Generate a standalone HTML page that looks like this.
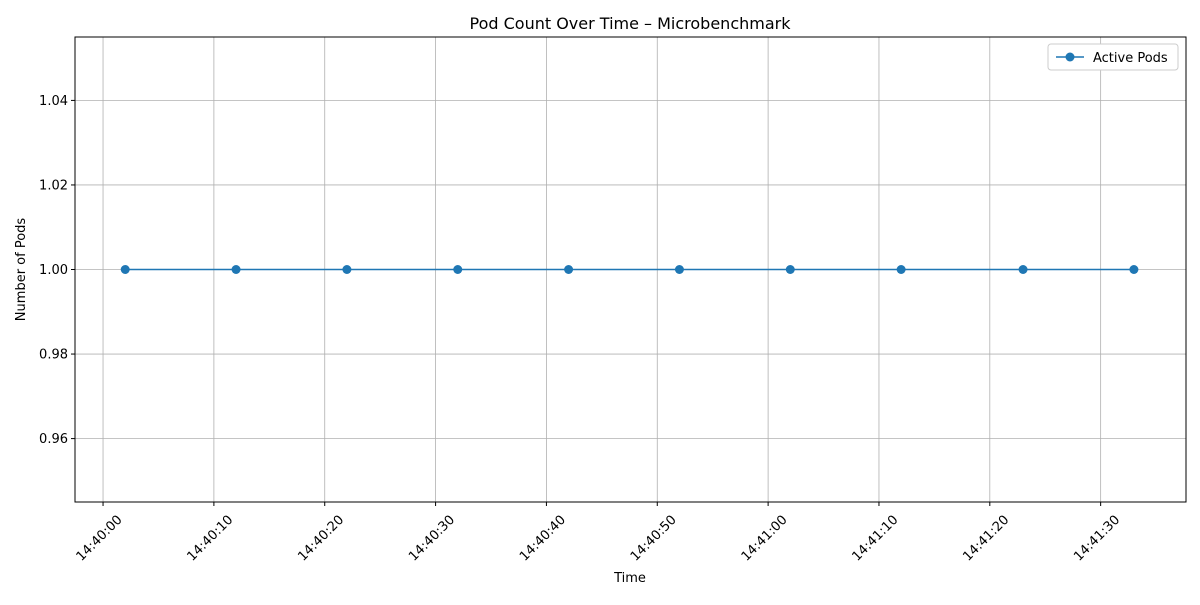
<!DOCTYPE html>
<html><head><meta charset="utf-8"><style>
body{margin:0;background:#fff;}
svg{font-family:"DejaVu Sans","Liberation Sans",sans-serif;}
</style></head><body>
<svg id="chart" width="1200" height="600">
<rect width="1200" height="600" fill="#fff"/>
<text x="630" y="29" font-size="16" text-anchor="middle">Pod Count Over Time – Microbenchmark</text>
<g id="grid"></g>
<g id="xaxis"></g>
<g id="yaxis"></g>
<g id="series"></g>
<rect x="75" y="37" width="1111" height="465" fill="none" stroke="#000" stroke-width="1"/>
<text x="630" y="582" font-size="13" text-anchor="middle">Time</text>
<text transform="translate(25,269.5) rotate(-90)" font-size="13" text-anchor="middle">Number of Pods</text>
<g>
<rect x="1048" y="44" width="130" height="26" fill="#fff" stroke="#ccc" rx="3"/>
<line x1="1056" y1="57" x2="1084" y2="57" stroke="#1f77b4" stroke-width="1.5"/>
<circle cx="1070" cy="57" r="4.5" fill="#1f77b4"/>
<text x="1093" y="62" font-size="13">Active Pods</text>
</g>
</svg>
<script>
const timesSec = [2, 12, 22, 32, 42, 52, 62, 72, 83, 93];
const podCounts = [1, 1, 1, 1, 1, 1, 1, 1, 1, 1];
const xTickSec = [0, 10, 20, 30, 40, 50, 60, 70, 80, 90];
const xTickLabels = ["14:40:00","14:40:10","14:40:20","14:40:30","14:40:40","14:40:50","14:41:00","14:41:10","14:41:20","14:41:30"];
const yTicks = [0.96, 0.98, 1.00, 1.02, 1.04];
const yTickLabels = ["0.96","0.98","1.00","1.02","1.04"];

const NS="http://www.w3.org/2000/svg";
const L=75,R=1186,T=37,B=502;
const xMin=-2.53,xMax=97.7,yMin=0.945,yMax=1.055;
const xs=v=>L+(v-xMin)/(xMax-xMin)*(R-L);
const ys=v=>B-(v-yMin)/(yMax-yMin)*(B-T);
function mk(tag,attrs,parent){const e=document.createElementNS(NS,tag);for(const k in attrs)e.setAttribute(k,attrs[k]);document.getElementById(parent).appendChild(e);return e;}

xTickSec.forEach((t,i)=>{
  const x=xs(t);
  const g=mk('line',{x1:x,x2:x,y1:T,y2:B,stroke:'#b0b0b0','stroke-width':0.8},'grid');
  
  
  const tk=mk('line',{x1:x,x2:x,y1:B,y2:B+4,stroke:'#000'},'xaxis');
  
  
  const px=x-1,py=B+39;
  const tx=mk('text',{x:px,y:py,'font-size':13,'text-anchor':'middle',transform:`rotate(-45 ${px} ${py})`},'xaxis');
  tx.textContent=xTickLabels[i];
  
  
});
yTicks.forEach((v,i)=>{
  const y=ys(v);
  const g=mk('line',{x1:L,x2:R,y1:y,y2:y,stroke:'#b0b0b0','stroke-width':0.8},'grid');
  
  
  const tk=mk('line',{x1:L-4,x2:L,y1:y,y2:y,stroke:'#000'},'yaxis');
  
  
  const tx=mk('text',{x:L-7,y:y+4.5,'font-size':13,'text-anchor':'end'},'yaxis');
  tx.textContent=yTickLabels[i];
  
  
});
const pts=timesSec.map((t,i)=>xs(t)+','+ys(podCounts[i])).join(' ');
const line=mk('polyline',{points:pts,fill:'none',stroke:'#1f77b4','stroke-width':1.5},'series');


timesSec.forEach((t,i)=>{
  const c=mk('circle',{cx:xs(t),cy:ys(podCounts[i]),r:4.5,fill:'#1f77b4'},'series');
  
  
});
</script>
</body></html>
